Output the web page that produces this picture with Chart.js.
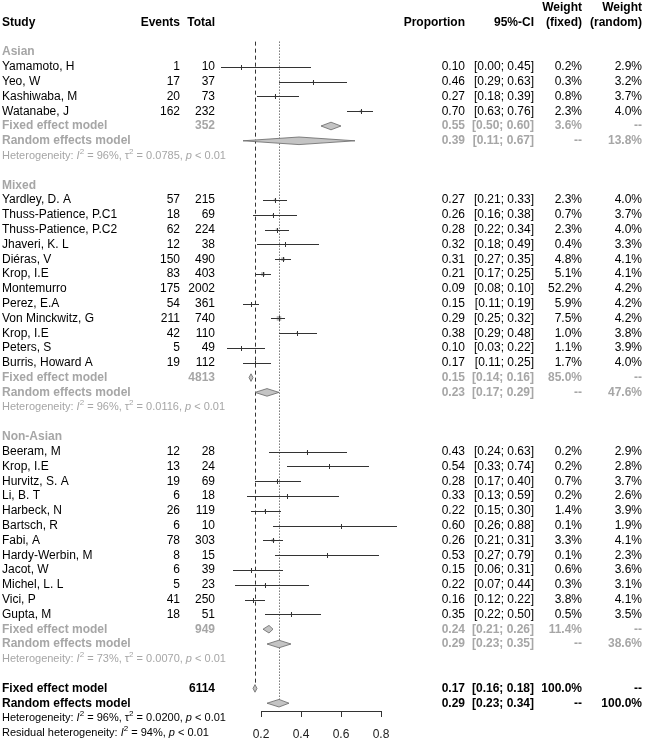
<!DOCTYPE html>
<html>
<head>
<meta charset="utf-8">
<script src="https://cdn.jsdelivr.net/npm/chart.js@4/dist/chart.umd.min.js"></script>
<style>
body { margin: 0; background: #fff; }
#forest { display: block; }
</style>
</head>
<body>
<canvas id="forest" width="646" height="742"></canvas>
<script>
// study level data
const groupNames = ['Asian', 'Mixed', 'Non-Asian'];
const studyGroup = [0, 0, 0, 0, 1, 1, 1, 1, 1, 1, 1, 1, 1, 1, 1, 1, 2, 2, 2, 2, 2, 2, 2, 2, 2, 2, 2, 2];
const studyNames = ['Yamamoto, H', 'Yeo, W', 'Kashiwaba, M', 'Watanabe, J',
  'Yardley, D. A', 'Thuss-Patience, P.C1', 'Thuss-Patience, P.C2', 'Jhaveri, K. L', 'Diéras, V', 'Krop, I.E',
  'Montemurro', 'Perez, E.A', 'Von Minckwitz, G', 'Krop, I.E', 'Peters, S', 'Burris, Howard A',
  'Beeram, M', 'Krop, I.E', 'Hurvitz, S. A', 'Li, B. T', 'Harbeck, N', 'Bartsch, R', 'Fabi, A',
  'Hardy-Werbin, M', 'Jacot, W', 'Michel, L. L', 'Vici, P', 'Gupta, M'];
const events = [1, 17, 20, 162, 57, 18, 62, 12, 150, 83, 175, 54, 211, 42, 5, 19, 12, 13, 19, 6, 26, 6, 78, 8, 6, 5, 41, 18];
const totals = [10, 37, 73, 232, 215, 69, 224, 38, 490, 403, 2002, 361, 740, 110, 49, 112, 28, 24, 69, 18, 119, 10, 303, 15, 39, 23, 250, 51];
const props = [0.10, 0.46, 0.27, 0.70, 0.27, 0.26, 0.28, 0.32, 0.31, 0.21, 0.09, 0.15, 0.29, 0.38, 0.10, 0.17,
  0.43, 0.54, 0.28, 0.33, 0.22, 0.60, 0.26, 0.53, 0.15, 0.22, 0.16, 0.35];
const ciLow = [0.00, 0.29, 0.18, 0.63, 0.21, 0.16, 0.22, 0.18, 0.27, 0.17, 0.08, 0.11, 0.25, 0.29, 0.03, 0.11,
  0.24, 0.33, 0.17, 0.13, 0.15, 0.26, 0.21, 0.27, 0.06, 0.07, 0.12, 0.22];
const ciHigh = [0.45, 0.63, 0.39, 0.76, 0.33, 0.38, 0.34, 0.49, 0.35, 0.25, 0.10, 0.19, 0.32, 0.48, 0.22, 0.25,
  0.63, 0.74, 0.40, 0.59, 0.30, 0.88, 0.31, 0.79, 0.31, 0.44, 0.22, 0.50];
const wFixed = [0.2, 0.3, 0.8, 2.3, 2.3, 0.7, 2.3, 0.4, 4.8, 5.1, 52.2, 5.9, 7.5, 1.0, 1.1, 1.7,
  0.2, 0.2, 0.7, 0.2, 1.4, 0.1, 3.3, 0.1, 0.6, 0.3, 3.8, 0.5];
const wRandom = [2.9, 3.2, 3.7, 4.0, 4.0, 3.7, 4.0, 3.3, 4.1, 4.1, 4.2, 4.2, 4.2, 3.8, 3.9, 4.0,
  2.9, 2.8, 3.7, 2.6, 3.9, 1.9, 4.1, 2.3, 3.6, 3.1, 4.1, 3.5];

// subgroup summaries
const groupTotals = [352, 4813, 949];
const groupFixed = [0.55, 0.15, 0.24];
const groupFixedLow = [0.50, 0.14, 0.21];
const groupFixedHigh = [0.60, 0.16, 0.26];
const groupFixedW = [3.6, 85.0, 11.4];
const groupRandom = [0.39, 0.23, 0.29];
const groupRandomLow = [0.11, 0.17, 0.23];
const groupRandomHigh = [0.67, 0.29, 0.35];
const groupRandomW = [13.8, 47.6, 38.6];
const groupI2 = ['96%', '96%', '73%'];
const groupTau2 = ['0.0785', '0.0116', '0.0070'];

// overall
const overallTotal = 6114;
const overallFixed = [0.17, 0.16, 0.18];
const overallRandom = [0.29, 0.23, 0.34];
const overallI2 = '96%';
const overallTau2 = '0.0200';
const residualI2 = '94%';

const xTicks = [0.2, 0.4, 0.6, 0.8];

const FONT = "'Liberation Sans', Arial, sans-serif";
const GREY = '#a6a6a6';
const LINE = '#333';

// work out which row everything sits on
const studyRow = [];
const groupRow = [];
let r = 0;
groupNames.forEach((g, gi) => {
  groupRow.push(r);
  studyGroup.forEach((sg, i) => { if (sg === gi) studyRow[i] = ++r; });
  r += 5;
});
const overallRow = r;

const f2 = v => v.toFixed(2);
const ci = (a, b) => '[' + f2(a) + '; ' + f2(b) + ']';
const pct = v => v.toFixed(1) + '%';

function text(ctx, s, x, y, align, font, color) {
  ctx.font = font;
  ctx.fillStyle = color;
  ctx.textAlign = align;
  ctx.textBaseline = 'middle';
  ctx.fillText(s, x, y);
}

// heterogeneity line with italic I / p and superscripts
function hetText(ctx, parts, x, y, color) {
  ctx.fillStyle = color;
  ctx.textAlign = 'left';
  ctx.textBaseline = 'middle';
  parts.forEach(p => {
    let font = '11px ' + FONT, dy = 0;
    if (p[1] === 'i') font = 'italic 11px ' + FONT;
    if (p[1] === 's') { font = '8px ' + FONT; dy = -4; }
    ctx.font = font;
    ctx.fillText(p[0], x, y + dy);
    x += ctx.measureText(p[0]).width;
  });
}
function hetParts(label, i2, tau2) {
  const parts = [[label + ': ', 'n'], ['I', 'i'], ['2', 's'], [' = ' + i2 + ', ', 'n']];
  if (tau2) parts.push(['τ', 'n'], ['2', 's'], [' = ' + tau2 + ', ', 'n']);
  parts.push(['p', 'i'], [' < 0.01', 'n']);
  return parts;
}

function diamond(ctx, xs, y, est, lo, hi) {
  const h = 3.8;
  ctx.beginPath();
  ctx.moveTo(xs.getPixelForValue(lo), y);
  ctx.lineTo(xs.getPixelForValue(est), y - h);
  ctx.lineTo(xs.getPixelForValue(hi), y);
  ctx.lineTo(xs.getPixelForValue(est), y + h);
  ctx.closePath();
  ctx.fillStyle = '#c4c4c4';
  ctx.fill();
  ctx.strokeStyle = '#666';
  ctx.lineWidth = 0.8;
  ctx.stroke();
}

const boxSide = w => 1.66 * Math.sqrt(w);

const forestPlugin = {
  id: 'forest',
  beforeDatasetsDraw(chart) {
    const ctx = chart.ctx, xs = chart.scales.x, ys = chart.scales.y;
    ctx.save();
    ctx.strokeStyle = LINE;
    ctx.lineWidth = 1;
    // fixed (dashed) and random (dotted) reference lines
    const xf = Math.round(xs.getPixelForValue(overallFixed[0])) + 0.5;
    const xr = Math.round(xs.getPixelForValue(overallRandom[0])) + 0.5;
    ctx.setLineDash([4, 3]);
    ctx.beginPath();
    ctx.moveTo(xf, ys.getPixelForValue(-0.7));
    ctx.lineTo(xf, ys.getPixelForValue(overallRow - 0.3));
    ctx.stroke();
    ctx.setLineDash([1, 2]);
    ctx.beginPath();
    ctx.moveTo(xr, ys.getPixelForValue(-0.7));
    ctx.lineTo(xr, ys.getPixelForValue(overallRow + 0.75));
    ctx.stroke();
    ctx.restore();
  },
  afterDatasetsDraw(chart) {
    const ctx = chart.ctx, xs = chart.scales.x, ys = chart.scales.y;
    ctx.save();
    ctx.lineWidth = 1;
    studyNames.forEach((n, i) => {
      const y = Math.round(ys.getPixelForValue(studyRow[i])) + 0.5;
      const x0 = xs.getPixelForValue(ciLow[i]);
      const x1 = xs.getPixelForValue(ciHigh[i]);
      const xe = Math.round(xs.getPixelForValue(props[i])) + 0.5;
      const half = boxSide(wFixed[i]) / 2;
      const inside = x0 >= xe - half && x1 <= xe + half;
      ctx.strokeStyle = inside ? '#fff' : LINE;
      ctx.beginPath();
      ctx.moveTo(x0, y);
      ctx.lineTo(x1, y);
      ctx.moveTo(xe, y - 2.5);
      ctx.lineTo(xe, y + 2.5);
      ctx.stroke();
    });
    groupNames.forEach((g, gi) => {
      const n = studyGroup.filter(v => v === gi).length;
      const rf = groupRow[gi] + n + 1;
      diamond(ctx, xs, ys.getPixelForValue(rf), groupFixed[gi], groupFixedLow[gi], groupFixedHigh[gi]);
      diamond(ctx, xs, ys.getPixelForValue(rf + 1), groupRandom[gi], groupRandomLow[gi], groupRandomHigh[gi]);
    });
    diamond(ctx, xs, ys.getPixelForValue(overallRow), overallFixed[0], overallFixed[1], overallFixed[2]);
    diamond(ctx, xs, ys.getPixelForValue(overallRow + 1), overallRandom[0], overallRandom[1], overallRandom[2]);
    ctx.restore();
  },
  afterDraw(chart) {
    const ctx = chart.ctx, ys = chart.scales.y;
    const px = row => ys.getPixelForValue(row);
    const reg = '12px ' + FONT, bold = 'bold 12px ' + FONT;
    ctx.save();
    // column headers
    text(ctx, 'Study', 2, px(-2), 'left', bold, '#000');
    text(ctx, 'Events', 180, px(-2), 'right', bold, '#000');
    text(ctx, 'Total', 215, px(-2), 'right', bold, '#000');
    text(ctx, 'Proportion', 465, px(-2), 'right', bold, '#000');
    text(ctx, '95%-CI', 534, px(-2), 'right', bold, '#000');
    text(ctx, 'Weight', 582, px(-3), 'right', bold, '#000');
    text(ctx, '(fixed)', 582, px(-2), 'right', bold, '#000');
    text(ctx, 'Weight', 642, px(-3), 'right', bold, '#000');
    text(ctx, '(random)', 642, px(-2), 'right', bold, '#000');

    studyNames.forEach((n, i) => {
      const y = px(studyRow[i]);
      text(ctx, n, 2, y, 'left', reg, '#000');
      text(ctx, String(events[i]), 180, y, 'right', reg, '#000');
      text(ctx, String(totals[i]), 215, y, 'right', reg, '#000');
      text(ctx, f2(props[i]), 465, y, 'right', reg, '#000');
      text(ctx, ci(ciLow[i], ciHigh[i]), 534, y, 'right', reg, '#000');
      text(ctx, pct(wFixed[i]), 582, y, 'right', reg, '#000');
      text(ctx, pct(wRandom[i]), 642, y, 'right', reg, '#000');
    });

    groupNames.forEach((g, gi) => {
      const n = studyGroup.filter(v => v === gi).length;
      const r0 = groupRow[gi];
      text(ctx, g, 2, px(r0), 'left', bold, GREY);
      const yf = px(r0 + n + 1), yr = px(r0 + n + 2);
      text(ctx, 'Fixed effect model', 2, yf, 'left', bold, GREY);
      text(ctx, String(groupTotals[gi]), 215, yf, 'right', bold, GREY);
      text(ctx, f2(groupFixed[gi]), 465, yf, 'right', bold, GREY);
      text(ctx, ci(groupFixedLow[gi], groupFixedHigh[gi]), 534, yf, 'right', bold, GREY);
      text(ctx, pct(groupFixedW[gi]), 582, yf, 'right', bold, GREY);
      text(ctx, '--', 642, yf, 'right', bold, GREY);
      text(ctx, 'Random effects model', 2, yr, 'left', bold, GREY);
      text(ctx, f2(groupRandom[gi]), 465, yr, 'right', bold, GREY);
      text(ctx, ci(groupRandomLow[gi], groupRandomHigh[gi]), 534, yr, 'right', bold, GREY);
      text(ctx, '--', 582, yr, 'right', bold, GREY);
      text(ctx, pct(groupRandomW[gi]), 642, yr, 'right', bold, GREY);
      hetText(ctx, hetParts('Heterogeneity', groupI2[gi], groupTau2[gi]), 2, px(r0 + n + 3), GREY);
    });

    const yf = px(overallRow), yr = px(overallRow + 1);
    text(ctx, 'Fixed effect model', 2, yf, 'left', bold, '#000');
    text(ctx, String(overallTotal), 215, yf, 'right', bold, '#000');
    text(ctx, f2(overallFixed[0]), 465, yf, 'right', bold, '#000');
    text(ctx, ci(overallFixed[1], overallFixed[2]), 534, yf, 'right', bold, '#000');
    text(ctx, '100.0%', 582, yf, 'right', bold, '#000');
    text(ctx, '--', 642, yf, 'right', bold, '#000');
    text(ctx, 'Random effects model', 2, yr, 'left', bold, '#000');
    text(ctx, f2(overallRandom[0]), 465, yr, 'right', bold, '#000');
    text(ctx, ci(overallRandom[1], overallRandom[2]), 534, yr, 'right', bold, '#000');
    text(ctx, '--', 582, yr, 'right', bold, '#000');
    text(ctx, '100.0%', 642, yr, 'right', bold, '#000');
    hetText(ctx, hetParts('Heterogeneity', overallI2, overallTau2), 2, px(overallRow + 2), '#000');
    hetText(ctx, hetParts('Residual heterogeneity', residualI2, null), 2, px(overallRow + 3), '#000');
    ctx.restore();
  }
};

const rowH = 14.8;
const firstRowY = 52;
const axisY = 711;

new Chart(document.getElementById('forest'), {
  type: 'scatter',
  data: {
    datasets: [{
      data: props.map((p, i) => ({ x: p, y: studyRow[i] })),
      pointStyle: 'rect',
      pointRadius: ctx => boxSide(wFixed[ctx.dataIndex]) / Math.SQRT2,
      pointBackgroundColor: '#b8b8b8',
      pointBorderColor: '#b8b8b8',
      pointBorderWidth: 0,
      clip: false
    }]
  },
  options: {
    responsive: false,
    animation: false,
    events: [],
    layout: { autoPadding: false, padding: { left: 261, right: 265, top: 0, bottom: 0 } },
    plugins: { legend: { display: false }, tooltip: { enabled: false } },
    scales: {
      x: {
        type: 'linear',
        min: xTicks[0],
        max: xTicks[xTicks.length - 1],
        afterBuildTicks: axis => { axis.ticks = xTicks.map(v => ({ value: v })); },
        afterFit: axis => { axis.height = 742 - axisY; },
        grid: { display: true, drawOnChartArea: false, drawTicks: true, tickLength: 6, color: LINE },
        border: { display: true, color: LINE, width: 1 },
        ticks: { padding: 10.5, color: '#222', font: { family: FONT, size: 12 }, callback: v => v.toFixed(1) }
      },
      y: {
        type: 'linear',
        display: false,
        reverse: true,
        min: -firstRowY / rowH,
        max: (axisY - firstRowY) / rowH
      }
    }
  },
  plugins: [forestPlugin]
});
</script>
</body>
</html>
